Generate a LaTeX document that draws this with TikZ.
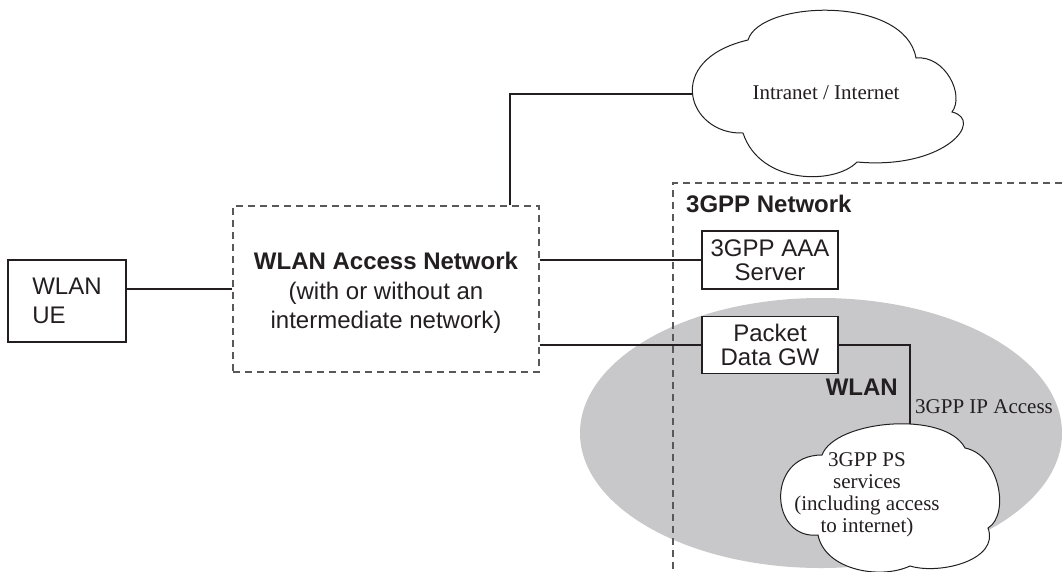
\documentclass[tikz,border=0pt]{standalone}
\usepackage{fontspec}
\setmainfont{Liberation Serif}
\setsansfont{Liberation Sans}
\definecolor{ellgray}{RGB}{200,200,202}
\definecolor{ink}{RGB}{35,31,32}
\begin{document}
\begin{tikzpicture}[x=1pt,y=-1pt,
  box/.style={draw=ink, line width=1.3pt, fill=white, inner sep=0pt, text=ink, align=center,
    font=\sffamily\fontsize{24}{23.5}\selectfont},
  dashbox/.style={draw=ink!75, line width=1.2pt, dash pattern=on 7pt off 5pt},
  conn/.style={draw=ink, line width=1.5pt},
  cloudline/.style={draw=ink, line width=1pt, fill=white},
  sertext/.style={font=\rmfamily\fontsize{21}{22}\selectfont, text=ink, inner sep=0pt},
  boldlbl/.style={font=\sffamily\bfseries\fontsize{24}{28}\selectfont, text=ink, inner sep=0pt},
  ]
\useasboundingbox (0,0) rectangle (1062,571);
% grey WLAN ellipse
\fill[ellgray] (821,433) ellipse [x radius=241, y radius=135];
% 3GPP network boundary
\draw[dashbox] (1062,183) -- (673,183) -- (673,571);
\node[boldlbl, anchor=base west] (net) at (686,212) {3GPP Network};

% nodes
\node[box, minimum width=118pt, minimum height=82pt, align=left,
      font=\sffamily\fontsize{24}{29}\selectfont] (ue) at (67,301) {WLAN\\UE};
\node[dashbox, minimum width=306pt, minimum height=166pt, inner sep=0pt] (wan) at (386,289) {};
\node[font=\sffamily\fontsize{24}{29.5}\selectfont, align=center, inner sep=0pt, text=ink]
      (wantext) at (386,293) {\textbf{WLAN Access Network}\\(with or without an\\intermediate network)};
\node[box, minimum width=136pt, minimum height=58pt] (aaa) at (770,260) {3GPP AAA\\Server};
\node[box, minimum width=136pt, minimum height=57pt] (pdg) at (770,345) {Packet\\Data GW};

% Intranet / Internet cloud
\draw[cloudline] (748,40) .. controls (760,0) and (905,-5) .. (916,58)
  .. controls (945,55) and (965,95) .. (952,112)
  .. controls (985,120) and (945,170) .. (857,162)
  .. controls (835,185) and (760,185) .. (743,133)
  .. controls (688,135) and (662,60) .. cycle;
\coordinate (c1w) at (693,94);
\node[sertext, anchor=base] (inet) at (826,99) {Intranet / Internet};

% 3GPP PS services cloud
\draw[cloudline] (822,455) .. controls (835,420) and (945,410) .. (965,448)
  .. controls (1000,455) and (1010,515) .. (988,528)
  .. controls (1000,560) and (940,575) .. (910,566)
  .. controls (880,580) and (825,570) .. (818,535)
  .. controls (770,540) and (765,455) .. cycle;
\coordinate (c2n) at (910,424);
\node[sertext, align=center] (ps) at (867,495) {3GPP PS\\services\\(including access\\to internet)};

% labels in ellipse
\node[boldlbl, anchor=base east] (wlanlbl) at (898,395) {WLAN};
\node[sertext, anchor=base west] (iplbl) at (915,413) {3GPP IP Access};

% connectors
\draw[conn] (ue.east |- wan.west) -- (wan.west);
\draw[conn] ([xshift=124pt]wan.north) |- (c1w);
\draw[conn] (wan.east |- aaa.west) -- (aaa.west);
\draw[conn] (wan.east |- pdg.west) -- (pdg.west);
\draw[conn] (pdg.east) -| (c2n);
\end{tikzpicture}
\end{document}
